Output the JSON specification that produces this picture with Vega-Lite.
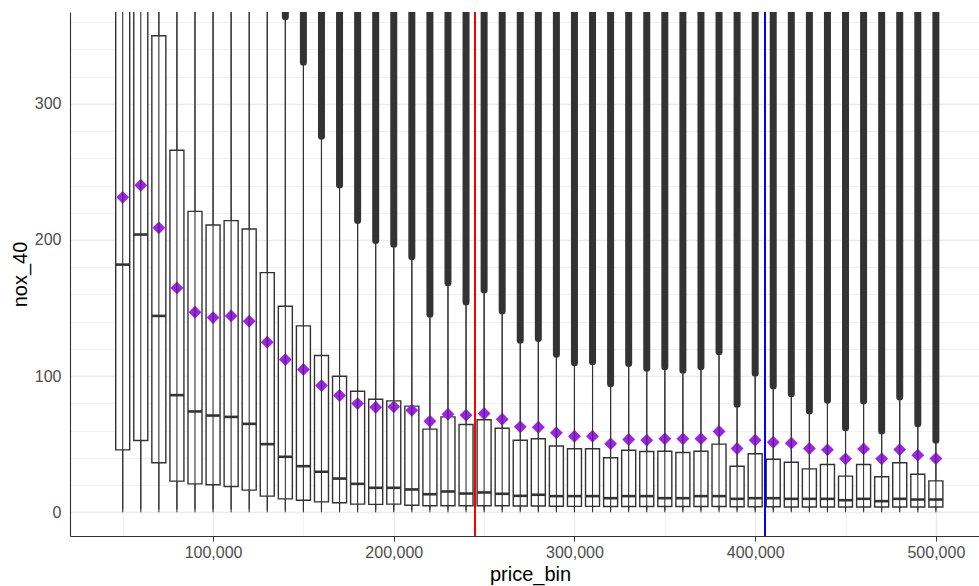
{
  "$schema": "https://vega.github.io/schema/vega-lite/v6.json",
  "autosize": {"type": "none"},
  "padding": {"left": 70, "top": 12, "right": 0, "bottom": 50},
  "width": 909,
  "height": 524,
  "background": "white",
  "config": {
    "view": {"stroke": null},
    "font": "Liberation Sans",
    "axisY": {
      "values": [0, 50, 100, 150, 200, 250, 300, 350],
      "labelExpr": "datum.value % 100 === 0 ? datum.label : ''",
      "labelFont": "Liberation Sans",
      "labelFontSize": 16,
      "labelColor": "#4D4D4D",
      "labelPadding": 4,
      "tickSize": 5,
      "tickColor": "#333333",
      "tickOpacity": {"condition": {"test": "datum.value % 100 === 0", "value": 1}, "value": 0},
      "domainColor": "#333333",
      "domainWidth": 1.1,
      "grid": true,
      "gridColor": "#EBEBEB",
      "gridWidth": {"condition": {"test": "datum.value % 100 === 0", "value": 1.4}, "value": 0.7},
      "titleFont": "Liberation Sans",
      "titleFontSize": 20,
      "titleFontWeight": "normal",
      "titleColor": "#000000",
      "titlePadding": 4
    }
  },
  "data": {"values": [
    {"price_bin": 50000, "lo": 2, "q1": 45.8, "med": 181.9, "q3": 390, "mean": 231.3, "wtop": 420, "out": null},
    {"price_bin": 60000, "lo": 2, "q1": 52.7, "med": 204, "q3": 390, "mean": 240.2, "wtop": 420, "out": null},
    {"price_bin": 70000, "lo": 2, "q1": 36.3, "med": 144.2, "q3": 350, "mean": 208.9, "wtop": 420, "out": null},
    {"price_bin": 80000, "lo": 2, "q1": 22.8, "med": 86, "q3": 265.9, "mean": 164.8, "wtop": 420, "out": null},
    {"price_bin": 90000, "lo": 2, "q1": 20.8, "med": 74, "q3": 221, "mean": 146.9, "wtop": 420, "out": null},
    {"price_bin": 100000, "lo": 2, "q1": 20.1, "med": 71, "q3": 211, "mean": 143, "wtop": 420, "out": null},
    {"price_bin": 110000, "lo": 2, "q1": 18.9, "med": 70, "q3": 214.2, "mean": 144.2, "wtop": 420, "out": null},
    {"price_bin": 120000, "lo": 2, "q1": 16.2, "med": 64.9, "q3": 208.1, "mean": 140.3, "wtop": 420, "out": null},
    {"price_bin": 130000, "lo": 1.5, "q1": 11.8, "med": 50, "q3": 176, "mean": 124.9, "wtop": 420, "out": null},
    {"price_bin": 140000, "lo": 1.5, "q1": 9.8, "med": 40.7, "q3": 151.3, "mean": 112.1, "wtop": 361.4, "out": 364},
    {"price_bin": 150000, "lo": 1.5, "q1": 8.8, "med": 33.8, "q3": 136.9, "mean": 104.8, "wtop": 328, "out": 330.6},
    {"price_bin": 160000, "lo": 1.5, "q1": 7.6, "med": 29.7, "q3": 115.1, "mean": 93, "wtop": 273.7, "out": 276.3},
    {"price_bin": 170000, "lo": 1.5, "q1": 6.9, "med": 24.7, "q3": 99.9, "mean": 85.7, "wtop": 237.7, "out": 240.3},
    {"price_bin": 180000, "lo": 1.5, "q1": 5.9, "med": 20.8, "q3": 88.9, "mean": 79.8, "wtop": 211.8, "out": 214.4},
    {"price_bin": 190000, "lo": 1.5, "q1": 5.7, "med": 17.9, "q3": 83, "mean": 77.1, "wtop": 197.1, "out": 199.7},
    {"price_bin": 200000, "lo": 1.5, "q1": 5.9, "med": 17.9, "q3": 81.8, "mean": 77.4, "wtop": 194.2, "out": 196.8},
    {"price_bin": 210000, "lo": 1.5, "q1": 5.1, "med": 16.7, "q3": 77.9, "mean": 74.9, "wtop": 185.1, "out": 187.7},
    {"price_bin": 220000, "lo": 1.5, "q1": 4.7, "med": 13.2, "q3": 61, "mean": 66.8, "wtop": 142.8, "out": 145.4},
    {"price_bin": 230000, "lo": 1.5, "q1": 4.7, "med": 15.2, "q3": 70, "mean": 72, "wtop": 166, "out": 168.6},
    {"price_bin": 240000, "lo": 1.5, "q1": 4.7, "med": 13.7, "q3": 64.4, "mean": 71.3, "wtop": 151.8, "out": 154.4},
    {"price_bin": 250000, "lo": 1.5, "q1": 4.7, "med": 14.5, "q3": 67.9, "mean": 72.5, "wtop": 160.6, "out": 163.2},
    {"price_bin": 260000, "lo": 1.5, "q1": 4.7, "med": 13.5, "q3": 61.7, "mean": 68.3, "wtop": 145.2, "out": 147.8},
    {"price_bin": 270000, "lo": 1.5, "q1": 4.5, "med": 12, "q3": 52.9, "mean": 62.7, "wtop": 123.7, "out": 126.3},
    {"price_bin": 280000, "lo": 1.5, "q1": 4.5, "med": 12.8, "q3": 53.9, "mean": 62.4, "wtop": 125.1, "out": 127.7},
    {"price_bin": 290000, "lo": 1.5, "q1": 4.4, "med": 11.8, "q3": 48.6, "mean": 58.3, "wtop": 113.4, "out": 116},
    {"price_bin": 300000, "lo": 1.5, "q1": 4.3, "med": 11.8, "q3": 46.6, "mean": 55.8, "wtop": 107.2, "out": 109.8},
    {"price_bin": 310000, "lo": 1.5, "q1": 4.3, "med": 11.8, "q3": 46.6, "mean": 55.8, "wtop": 108, "out": 110.6},
    {"price_bin": 320000, "lo": 1.5, "q1": 4.2, "med": 10.3, "q3": 40, "mean": 50.2, "wtop": 91.8, "out": 94.4},
    {"price_bin": 330000, "lo": 1.5, "q1": 4.2, "med": 11.8, "q3": 45.5, "mean": 53.4, "wtop": 106.7, "out": 109.3},
    {"price_bin": 340000, "lo": 1.5, "q1": 4.2, "med": 11.8, "q3": 44.6, "mean": 52.9, "wtop": 103.1, "out": 105.7},
    {"price_bin": 350000, "lo": 1.5, "q1": 4.2, "med": 10.3, "q3": 44.8, "mean": 53.9, "wtop": 104.3, "out": 106.9},
    {"price_bin": 360000, "lo": 1.5, "q1": 4.2, "med": 10.3, "q3": 43.8, "mean": 53.9, "wtop": 101.6, "out": 104.2},
    {"price_bin": 370000, "lo": 1.5, "q1": 4.2, "med": 11.8, "q3": 44.8, "mean": 54, "wtop": 104.3, "out": 106.9},
    {"price_bin": 380000, "lo": 1.5, "q1": 4.2, "med": 11.8, "q3": 50, "mean": 59.3, "wtop": 115.3, "out": 117.9},
    {"price_bin": 390000, "lo": 1.5, "q1": 4, "med": 9.8, "q3": 33.8, "mean": 46.8, "wtop": 76.7, "out": 79.3},
    {"price_bin": 400000, "lo": 1.5, "q1": 4, "med": 10.3, "q3": 42.9, "mean": 52.9, "wtop": 99.4, "out": 102},
    {"price_bin": 410000, "lo": 1.5, "q1": 4, "med": 10.3, "q3": 38.9, "mean": 51.4, "wtop": 90.1, "out": 92.7},
    {"price_bin": 420000, "lo": 1.5, "q1": 3.8, "med": 9.8, "q3": 36.7, "mean": 50.7, "wtop": 84.5, "out": 87.1},
    {"price_bin": 430000, "lo": 1.5, "q1": 3.8, "med": 9.8, "q3": 31.8, "mean": 46.8, "wtop": 71.8, "out": 74.4},
    {"price_bin": 440000, "lo": 1.5, "q1": 3.8, "med": 9.8, "q3": 35, "mean": 45.8, "wtop": 79.6, "out": 82.2},
    {"price_bin": 450000, "lo": 1.5, "q1": 3.8, "med": 8.8, "q3": 26.5, "mean": 39.2, "wtop": 59.5, "out": 62.1},
    {"price_bin": 460000, "lo": 1.5, "q1": 3.8, "med": 9.8, "q3": 35, "mean": 46.5, "wtop": 79.1, "out": 81.7},
    {"price_bin": 470000, "lo": 1.5, "q1": 3.8, "med": 8.1, "q3": 26, "mean": 39.2, "wtop": 57.1, "out": 59.7},
    {"price_bin": 480000, "lo": 1.5, "q1": 3.8, "med": 9.8, "q3": 36.3, "mean": 46, "wtop": 82, "out": 84.6},
    {"price_bin": 490000, "lo": 1.5, "q1": 3.8, "med": 9.3, "q3": 27.9, "mean": 41.9, "wtop": 62.4, "out": 65},
    {"price_bin": 500000, "lo": 1.5, "q1": 3.8, "med": 9.3, "q3": 23, "mean": 39.4, "wtop": 50.2, "out": 52.8}
  ]},
  "encoding": {
    "x": {
      "field": "price_bin",
      "type": "quantitative",
      "scale": {"domain": [23600, 521100], "nice": false, "zero": false},
      "axis": {
        "title": "price_bin",
        "values": [50000, 100000, 150000, 200000, 250000, 300000, 350000, 400000, 450000, 500000],
        "labelExpr": "datum.value % 100000 === 0 ? format(datum.value, ',') : ''",
        "labelFlush": false,
        "labelFont": "Liberation Sans",
        "labelFontSize": 16,
        "labelColor": "#4D4D4D",
        "labelPadding": 3,
        "tickSize": 5,
        "tickColor": "#333333",
        "tickOpacity": {"condition": {"test": "datum.value % 100000 === 0", "value": 1}, "value": 0},
        "domainColor": "#333333",
        "domainWidth": 1.1,
        "grid": true,
        "gridColor": "#EBEBEB",
        "gridWidth": {"condition": {"test": "datum.value % 100000 === 0", "value": 1.4}, "value": 0.7},
        "titleFont": "Liberation Sans",
        "titleFontSize": 20,
        "titleFontWeight": "normal",
        "titleColor": "#000000",
        "titlePadding": 4,
        "titleX": 460
      }
    }
  },
  "layer": [
    {
      "mark": {"type": "rule", "color": "#333333", "strokeWidth": 1.1, "clip": true},
      "encoding": {
        "y": {
          "field": "lo", "type": "quantitative", "title": "nox_40",
          "scale": {"domain": [-17.5, 367.5], "nice": false, "zero": false}
        },
        "y2": {"field": "wtop"}
      }
    },
    {
      "transform": [{"filter": "datum.out != null"}],
      "mark": {"type": "rule", "color": "#333333", "strokeWidth": 7, "strokeCap": "round", "clip": true},
      "encoding": {
        "y": {"field": "out", "type": "quantitative", "title": "nox_40"},
        "y2": {"datum": 430}
      }
    },
    {
      "mark": {"type": "bar", "size": 14, "fill": "white", "stroke": "#333333", "strokeWidth": 1.4, "clip": true},
      "encoding": {
        "y": {"field": "q1", "type": "quantitative", "title": "nox_40"},
        "y2": {"field": "q3"}
      }
    },
    {
      "mark": {"type": "tick", "orient": "horizontal", "size": 14, "thickness": 2.6, "color": "#333333", "opacity": 1, "clip": true},
      "encoding": {
        "y": {"field": "med", "type": "quantitative", "title": "nox_40"}
      }
    },
    {
      "mark": {"type": "point", "shape": "diamond", "filled": true, "size": 165, "color": "#A020F0", "opacity": 1, "clip": true},
      "encoding": {
        "y": {"field": "mean", "type": "quantitative", "title": "nox_40"}
      }
    },
    {
      "mark": {"type": "rule", "color": "#FF0000", "strokeWidth": 1.1},
      "encoding": {"x": {"datum": 245000}}
    },
    {
      "mark": {"type": "rule", "color": "#0000FF", "strokeWidth": 1.1},
      "encoding": {"x": {"datum": 405400}}
    },
    {
      "mark": {"type": "rule", "color": "#333333", "strokeWidth": 1.1},
      "encoding": {"y": {"datum": 367.5}}
    }
  ]
}
